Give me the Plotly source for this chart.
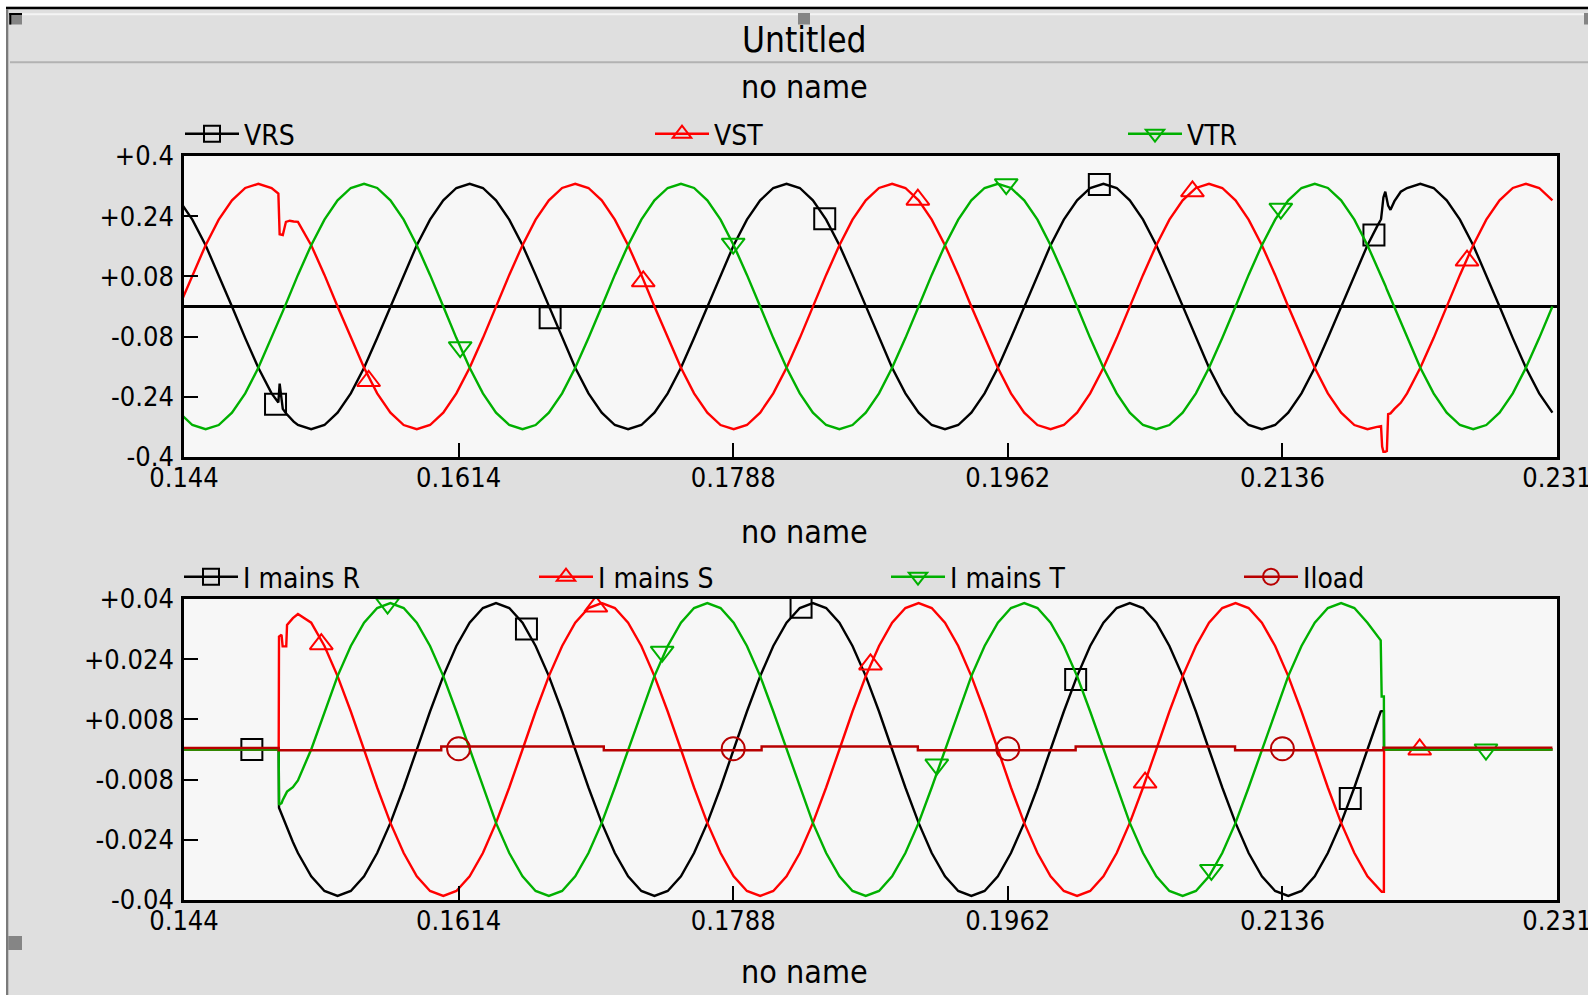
import plotly.graph_objects as go

# ---------------- data ----------------
# time samples of the voltage panel (s)
t_v = [0.14369, 0.14453, 0.14537, 0.14620, 0.14704, 0.14788, 0.14871, 0.14955,
       0.14998, 0.15006, 0.15026, 0.15046, 0.15070, 0.15095,
       0.15122, 0.15206, 0.15290, 0.15373, 0.15457, 0.15541, 0.15624, 0.15708, 0.15792, 0.15875,
       0.15959, 0.16043, 0.16126, 0.16210, 0.16294, 0.16377, 0.16461, 0.16545, 0.16628, 0.16712,
       0.16796, 0.16879, 0.16963, 0.17047, 0.17130, 0.17214, 0.17298, 0.17381, 0.17465, 0.17549,
       0.17632, 0.17716, 0.17800, 0.17883, 0.17967, 0.18051, 0.18134, 0.18218, 0.18302, 0.18385,
       0.18469, 0.18553, 0.18636, 0.18720, 0.18804, 0.18887, 0.18971, 0.19055, 0.19138, 0.19222,
       0.19306, 0.19389, 0.19473, 0.19557, 0.19640, 0.19724, 0.19808, 0.19891, 0.19975, 0.20059,
       0.20142, 0.20226, 0.20310, 0.20393, 0.20477, 0.20561, 0.20644, 0.20728, 0.20812, 0.20895,
       0.20979, 0.21063, 0.21146, 0.21230, 0.21314, 0.21397, 0.21481, 0.21565, 0.21648, 0.21732,
       0.21816, 0.21899,
       0.21960, 0.21985, 0.21992, 0.22000, 0.22012, 0.22022, 0.22030, 0.22045, 0.22070, 0.22110,
       0.22150, 0.22234, 0.22318, 0.22401, 0.22485, 0.22569, 0.22652, 0.22736, 0.22820, 0.22903,
       0.22987, 0.23071]

vrs = [0.282, 0.231, 0.163, 0.084, 0.0, -0.084, -0.163, -0.231,
       -0.255, -0.205, -0.272, -0.284, -0.295, -0.306,
       -0.315, -0.326, -0.315, -0.282, -0.231, -0.163, -0.084, 0.0, 0.084, 0.163, 0.231, 0.282, 0.315,
       0.326, 0.315, 0.282, 0.231, 0.163, 0.084, 0.0, -0.084, -0.163, -0.231, -0.282, -0.315,
       -0.326, -0.315, -0.282, -0.231, -0.163, -0.084, 0.0, 0.084, 0.163, 0.231, 0.282, 0.315,
       0.326, 0.315, 0.282, 0.231, 0.163, 0.084, 0.0, -0.084, -0.163, -0.231, -0.282, -0.315,
       -0.326, -0.315, -0.282, -0.231, -0.163, -0.084, 0.0, 0.084, 0.163, 0.231, 0.282, 0.315,
       0.326, 0.315, 0.282, 0.231, 0.163, 0.084, 0.0, -0.084, -0.163, -0.231, -0.282, -0.315,
       -0.326, -0.315, -0.282, -0.231, -0.163, -0.084, 0.0, 0.084, 0.163,
       0.213, 0.232, 0.258, 0.290, 0.305, 0.285, 0.268, 0.257, 0.280, 0.305,
       0.315, 0.326, 0.315, 0.282, 0.231, 0.163, 0.084, 0.0, -0.084, -0.163, -0.231, -0.282]

vst = [0.0, 0.084, 0.163, 0.231, 0.282, 0.315, 0.326, 0.315,
       0.300, 0.192, 0.190, 0.225, 0.228, 0.226,
       0.225, 0.163, 0.084, 0.0, -0.084, -0.163, -0.231, -0.282, -0.315, -0.326, -0.315, -0.282,
       -0.231, -0.163, -0.084, 0.0, 0.084, 0.163, 0.231, 0.282, 0.315,
       0.326, 0.315, 0.282, 0.231, 0.163, 0.084, 0.0, -0.084, -0.163, -0.231, -0.282, -0.315,
       -0.326, -0.315, -0.282, -0.231, -0.163, -0.084, 0.0, 0.084, 0.163, 0.231, 0.282, 0.315,
       0.326, 0.315, 0.282, 0.231, 0.163, 0.084, 0.0, -0.084, -0.163, -0.231, -0.282, -0.315,
       -0.326, -0.315, -0.282, -0.231, -0.163, -0.084, 0.0, 0.084, 0.163, 0.231, 0.282, 0.315,
       0.326, 0.315, 0.282, 0.231, 0.163, 0.084, 0.0, -0.084, -0.163, -0.231, -0.282, -0.315, -0.326,
       -0.320, -0.318, -0.372, -0.386, -0.386, -0.384, -0.286, -0.284, -0.272, -0.256,
       -0.231, -0.163, -0.084, 0.0, 0.084, 0.163, 0.231, 0.282, 0.315, 0.326, 0.315, 0.282]

vtr = [-0.282, -0.315, -0.326, -0.315, -0.282, -0.231, -0.163, -0.084,
       -0.041, -0.034, -0.013, 0.007, 0.032, 0.057,
       0.084, 0.163, 0.231, 0.282, 0.315,
       0.326, 0.315, 0.282, 0.231, 0.163, 0.084, 0.0, -0.084, -0.163, -0.231, -0.282, -0.315,
       -0.326, -0.315, -0.282, -0.231, -0.163, -0.084, 0.0, 0.084, 0.163, 0.231, 0.282, 0.315,
       0.326, 0.315, 0.282, 0.231, 0.163, 0.084, 0.0, -0.084, -0.163, -0.231, -0.282, -0.315,
       -0.326, -0.315, -0.282, -0.231, -0.163, -0.084, 0.0, 0.084, 0.163, 0.231, 0.282, 0.315,
       0.326, 0.315, 0.282, 0.231, 0.163, 0.084, 0.0, -0.084, -0.163, -0.231, -0.282, -0.315,
       -0.326, -0.315, -0.282, -0.231, -0.163, -0.084, 0.0, 0.084, 0.163, 0.231, 0.282, 0.315,
       0.326, 0.315, 0.282, 0.231, 0.163,
       0.107, 0.082, 0.076, 0.068, 0.056, 0.045, 0.037, 0.022, -0.003, -0.044,
       -0.084, -0.163, -0.231, -0.282, -0.315, -0.326, -0.315, -0.282, -0.231, -0.163, -0.084, 0.0]

# time samples of the current panel (s)
t_i = [0.14369, 0.14453, 0.14537, 0.14620, 0.14704, 0.14788, 0.14871, 0.14955,
       0.15000, 0.15002, 0.15018, 0.15025, 0.15048, 0.15053, 0.15090,
       0.15122, 0.15206, 0.15290, 0.15373, 0.15457, 0.15541, 0.15624, 0.15708, 0.15792, 0.15875,
       0.15959, 0.16043, 0.16126, 0.16210, 0.16294, 0.16377, 0.16461, 0.16545, 0.16628, 0.16712,
       0.16796, 0.16879, 0.16963, 0.17047, 0.17130, 0.17214, 0.17298, 0.17381, 0.17465, 0.17549,
       0.17632, 0.17716, 0.17800, 0.17883, 0.17967, 0.18051, 0.18134, 0.18218, 0.18302, 0.18385,
       0.18469, 0.18553, 0.18636, 0.18720, 0.18804, 0.18887, 0.18971, 0.19055, 0.19138, 0.19222,
       0.19306, 0.19389, 0.19473, 0.19557, 0.19640, 0.19724, 0.19808, 0.19891, 0.19975, 0.20059,
       0.20142, 0.20226, 0.20310, 0.20393, 0.20477, 0.20561, 0.20644, 0.20728, 0.20812, 0.20895,
       0.20979, 0.21063, 0.21146, 0.21230, 0.21314, 0.21397, 0.21481, 0.21565, 0.21648, 0.21732,
       0.21816, 0.21899, 0.21983,
       0.21989, 0.22003, 0.22004,
       0.22067, 0.22150, 0.22234, 0.22318, 0.22401, 0.22485, 0.22569, 0.22652, 0.22736, 0.22820,
       0.22903, 0.22987, 0.23071]

i_r = [0.0, 0.0, 0.0, 0.0, 0.0, 0.0, 0.0, 0.0,
       0.0, -0.0155, -0.0172, -0.0180, -0.0204, -0.0209, -0.0246,
       -0.0275, -0.0337, -0.0376, -0.0389, -0.0376, -0.0337, -0.0275, -0.0195, -0.0101, 0.0,
       0.0101, 0.0195, 0.0275, 0.0337, 0.0376,
       0.0389, 0.0376, 0.0337, 0.0275, 0.0195, 0.0101, 0.0, -0.0101, -0.0195, -0.0275, -0.0337, -0.0376,
       -0.0389, -0.0376, -0.0337, -0.0275, -0.0195, -0.0101, 0.0, 0.0101, 0.0195, 0.0275, 0.0337, 0.0376,
       0.0389, 0.0376, 0.0337, 0.0275, 0.0195, 0.0101, 0.0, -0.0101, -0.0195, -0.0275, -0.0337, -0.0376,
       -0.0389, -0.0376, -0.0337, -0.0275, -0.0195, -0.0101, 0.0, 0.0101, 0.0195, 0.0275, 0.0337, 0.0376,
       0.0389, 0.0376, 0.0337, 0.0275, 0.0195, 0.0101, 0.0, -0.0101, -0.0195, -0.0275, -0.0337, -0.0376,
       -0.0389, -0.0376, -0.0337, -0.0275, -0.0195, -0.0101, 0.0, 0.0101,
       0.0102, 0.0102, 0.0,
       0.0, 0.0, 0.0, 0.0, 0.0, 0.0, 0.0, 0.0, 0.0, 0.0, 0.0, 0.0, 0.0]

i_s = [0.0, 0.0, 0.0, 0.0, 0.0, 0.0, 0.0, 0.0,
       0.0, 0.0300, 0.0305, 0.0274, 0.0274, 0.0331, 0.0349,
       0.0360, 0.0337, 0.0275, 0.0195, 0.0101, 0.0, -0.0101, -0.0195, -0.0275, -0.0337, -0.0376,
       -0.0389, -0.0376, -0.0337, -0.0275, -0.0195, -0.0101, 0.0, 0.0101, 0.0195, 0.0275, 0.0337, 0.0376,
       0.0389, 0.0376, 0.0337, 0.0275, 0.0195, 0.0101, 0.0, -0.0101, -0.0195, -0.0275, -0.0337, -0.0376,
       -0.0389, -0.0376, -0.0337, -0.0275, -0.0195, -0.0101, 0.0, 0.0101, 0.0195, 0.0275, 0.0337, 0.0376,
       0.0389, 0.0376, 0.0337, 0.0275, 0.0195, 0.0101, 0.0, -0.0101, -0.0195, -0.0275, -0.0337, -0.0376,
       -0.0389, -0.0376, -0.0337, -0.0275, -0.0195, -0.0101, 0.0, 0.0101, 0.0195, 0.0275, 0.0337, 0.0376,
       0.0389, 0.0376, 0.0337, 0.0275, 0.0195, 0.0101, 0.0, -0.0101, -0.0195, -0.0275, -0.0337, -0.0376,
       -0.0378, -0.0378, 0.0,
       0.0, 0.0, 0.0, 0.0, 0.0, 0.0, 0.0, 0.0, 0.0, 0.0, 0.0, 0.0, 0.0]

i_t = [0.0, 0.0, 0.0, 0.0, 0.0, 0.0, 0.0, 0.0,
       0.0, -0.0147, -0.0143, -0.0135, -0.0116, -0.0112, -0.0100,
       -0.0082, 0.0, 0.0101, 0.0195, 0.0275, 0.0337, 0.0376,
       0.0389, 0.0376, 0.0337, 0.0275, 0.0195, 0.0101, 0.0, -0.0101, -0.0195, -0.0275, -0.0337, -0.0376,
       -0.0389, -0.0376, -0.0337, -0.0275, -0.0195, -0.0101, 0.0, 0.0101, 0.0195, 0.0275, 0.0337, 0.0376,
       0.0389, 0.0376, 0.0337, 0.0275, 0.0195, 0.0101, 0.0, -0.0101, -0.0195, -0.0275, -0.0337, -0.0376,
       -0.0389, -0.0376, -0.0337, -0.0275, -0.0195, -0.0101, 0.0, 0.0101, 0.0195, 0.0275, 0.0337, 0.0376,
       0.0389, 0.0376, 0.0337, 0.0275, 0.0195, 0.0101, 0.0, -0.0101, -0.0195, -0.0275, -0.0337, -0.0376,
       -0.0389, -0.0376, -0.0337, -0.0275, -0.0195, -0.0101, 0.0, 0.0101, 0.0195, 0.0275, 0.0337, 0.0376,
       0.0389, 0.0376, 0.0337, 0.0290,
       0.0141, 0.0141, 0.0,
       0.0, 0.0, 0.0, 0.0, 0.0, 0.0, 0.0, 0.0, 0.0, 0.0, 0.0, 0.0, 0.0]

# load current (step levels)
t_load = [0.14369, 0.1500, 0.1603, 0.1706, 0.1806, 0.1905, 0.2005, 0.2106, 0.2200, 0.23071]
i_load = [0.0004, -0.0002, 0.0008, -0.0002, 0.0008, -0.0002, 0.0008, -0.0002, 0.0005, 0.0005]

# marker positions
vrs_mt = [0.1498, 0.1672, 0.1846, 0.2020, 0.2194]
vrs_mv = [-0.26, -0.03, 0.233, 0.324, 0.19]
vst_mt = [0.1557, 0.1731, 0.1905, 0.2079, 0.2253]
vst_mv = [-0.198, 0.067, 0.284, 0.306, 0.122]
vtr_mt = [0.1615, 0.1788, 0.1961, 0.2135]
vtr_mv = [-0.108, 0.167, 0.325, 0.26]
ir_mt = [0.1483, 0.1657, 0.1831, 0.2005, 0.2179]
ir_mv = [0.0, 0.032, 0.0378, 0.0186, -0.013]
is_mt = [0.1527, 0.1701, 0.1875, 0.2049, 0.2223]
is_mv = [0.028, 0.038, 0.0226, -0.0088, 0.0]
it_mt = [0.1569, 0.1743, 0.1917, 0.2091, 0.2265]
it_mv = [0.0388, 0.026, -0.004, -0.032, 0.0]
il_mt = [0.1614, 0.1788, 0.1962, 0.2136]
il_mv = [0.0002, 0.0002, 0.0002, 0.0002]

# axis ticks
x_ticks = [0.144, 0.1614, 0.1788, 0.1962, 0.2136, 0.231]
x_labels = ["0.144", "0.1614", "0.1788", "0.1962", "0.2136", "0.231"]
v_ticks = [-0.4, -0.24, -0.08, 0.08, 0.24, 0.4]
v_labels = ["-0.4", "-0.24", "-0.08", "+0.08", "+0.24", "+0.4"]
i_ticks = [-0.04, -0.024, -0.008, 0.008, 0.024, 0.04]
i_labels = ["-0.04", "-0.024", "-0.008", "+0.008", "+0.024", "+0.04"]

# ---------------- style ----------------
W, H = 1588, 995
FONT = "DejaVu Sans Condensed, Liberation Sans Narrow, DejaVu Sans, sans-serif"
BLACK, RED, GREEN, DRED = "#000000", "#ff0000", "#00b000", "#b80000"
LW = 2.4
TICK_SIZE = 27
LEG_SIZE = 28


def px(x):
    return x / W


def py(y):
    return 1 - y / H


def gapped(ts, vs):
    xs, ys = [], []
    for t, v in zip(ts, vs):
        xs += [t, None]
        ys += [v, None]
    return xs, ys


fig = go.Figure()
legend_defs = {}


def add_series(name, t, v, mt, mv, color, symbol, size, xa, ya, legend, lx, ly, shape="linear"):
    fig.add_trace(go.Scatter(x=t, y=v, mode="lines", line=dict(color=color, width=LW, shape=shape),
                             xaxis=xa, yaxis=ya, showlegend=False, legendgroup=name,
                             hoverinfo="skip"))
    mx, my = gapped(mt, mv)
    fig.add_trace(go.Scatter(x=mx, y=my, mode="lines+markers", name=name, legendgroup=name,
                             line=dict(color=color, width=LW),
                             marker=dict(symbol=symbol, size=size, color=color,
                                         line=dict(color=color, width=2)),
                             xaxis=xa, yaxis=ya, legend=legend, hoverinfo="skip"))
    legend_defs[legend] = dict(orientation="h", x=px(lx), xanchor="left", y=py(ly),
                               yanchor="middle", bgcolor="rgba(0,0,0,0)", borderwidth=0,
                               font=dict(family=FONT, size=LEG_SIZE, color=BLACK),
                               itemwidth=54, itemclick=False, itemdoubleclick=False)


TOP_LY, BOT_LY = 134, 577
add_series("VRS", t_v, vrs, vrs_mt, vrs_mv, BLACK, "square-open", 21, "x", "y", "legend", 180, TOP_LY)
add_series("VST", t_v, vst, vst_mt, vst_mv, RED, "triangle-up-open", 20, "x", "y", "legend2", 650, TOP_LY)
add_series("VTR", t_v, vtr, vtr_mt, vtr_mv, GREEN, "triangle-down-open", 20, "x", "y", "legend3", 1123, TOP_LY)
add_series("I mains R", t_i, i_r, ir_mt, ir_mv, BLACK, "square-open", 21, "x2", "y2", "legend4", 179, BOT_LY)
add_series("I mains S", t_i, i_s, is_mt, is_mv, RED, "triangle-up-open", 20, "x2", "y2", "legend5", 534, BOT_LY)
add_series("I mains T", t_i, i_t, it_mt, it_mv, GREEN, "triangle-down-open", 20, "x2", "y2", "legend6", 886, BOT_LY)
add_series("Iload", t_load, i_load, il_mt, il_mv, DRED, "circle-open", 23, "x2", "y2", "legend7", 1239, BOT_LY,
           shape="hv")

XDOM = [px(184), px(1557)]
axis_common = dict(showline=True, linecolor=BLACK, linewidth=2.5, mirror=True, showgrid=False,
                   ticks="inside", ticklen=14, tickwidth=2.3, tickcolor=BLACK,
                   tickfont=dict(family=FONT, size=TICK_SIZE, color=BLACK), fixedrange=True)
x_common = dict(domain=XDOM, range=[0.144, 0.231], tickvals=x_ticks, ticktext=x_labels,
                zeroline=False, ticklabelstandoff=-5, ticklabeloverflow="allow")

fig.update_layout(
    width=W, height=H, margin=dict(l=0, r=0, t=0, b=0, autoexpand=False),
    paper_bgcolor="#dfdfdf", plot_bgcolor="#f7f7f7",
    font=dict(family=FONT, color=BLACK),
    xaxis=dict(anchor="y", **x_common, **axis_common),
    yaxis=dict(domain=[py(457), py(156)], range=[-0.4, 0.4], tickvals=v_ticks, ticktext=v_labels,
               zeroline=True, zerolinecolor=BLACK, zerolinewidth=2.5, anchor="x",
               ticklabelstandoff=2, **axis_common),
    xaxis2=dict(anchor="y2", **x_common, **axis_common),
    yaxis2=dict(domain=[py(900), py(599)], range=[-0.04, 0.04], tickvals=i_ticks, ticktext=i_labels,
                zeroline=False, anchor="x2", ticklabelstandoff=2, **axis_common),
    hovermode=False,
    **legend_defs,
)

# window frame decorations
shapes = [
    dict(type="rect", x0=0, x1=1, y0=py(6.5), y1=1, fillcolor="#ffffff", line_width=0),
    dict(type="rect", x0=0, x1=px(6), y0=0, y1=1, fillcolor="#ffffff", line_width=0),
    dict(type="rect", x0=px(6), x1=1, y0=py(9.3), y1=py(6.7), fillcolor="#000000", line_width=0),
    dict(type="rect", x0=px(6), x1=px(8.3), y0=0, y1=py(9.3), fillcolor="#7a7a7a", line_width=0),
    dict(type="rect", x0=px(22), x1=1, y0=py(15.3), y1=py(13.3), fillcolor="#f4f4f4", line_width=0),
    dict(type="rect", x0=px(10), x1=1, y0=py(63.3), y1=py(61.3), fillcolor="#b2b2b2", line_width=0),
    # selection handles
    dict(type="rect", x0=px(9.3), x1=px(22), y0=py(24.5), y1=py(13), fillcolor="#858585", line_width=0),
    dict(type="rect", x0=px(9.3), x1=px(22), y0=py(15), y1=py(13), fillcolor="#000000", line_width=0),
    dict(type="rect", x0=px(9.3), x1=px(11.3), y0=py(24.5), y1=py(13), fillcolor="#000000", line_width=0),
    dict(type="rect", x0=px(798), x1=px(810), y0=py(24.5), y1=py(13), fillcolor="#858585", line_width=0),
    dict(type="rect", x0=px(1584), x1=1, y0=py(24.5), y1=py(13), fillcolor="#858585", line_width=0),
    dict(type="rect", x0=px(8.3), x1=px(22), y0=py(950), y1=py(936), fillcolor="#858585", line_width=0),
]
for s in shapes:
    s["xref"] = "paper"
    s["yref"] = "paper"
    s["layer"] = "above"
fig.update_layout(shapes=shapes)

annotations = [
    dict(text="Untitled", x=px(804), y=py(40), size=35),
    dict(text="no name", x=px(804), y=py(87), size=32),
    dict(text="no name", x=px(804), y=py(532), size=32),
    dict(text="no name", x=px(804), y=py(972), size=32),
]
fig.update_layout(annotations=[
    dict(text=a["text"], x=a["x"], y=a["y"], xref="paper", yref="paper", showarrow=False,
         xanchor="center", yanchor="middle", font=dict(family=FONT, size=a["size"], color=BLACK))
    for a in annotations
])

fig.write_html("out.html", config={"displayModeBar": False},
               post_script="document.body.style.margin='0px';document.body.style.overflow='hidden';")
